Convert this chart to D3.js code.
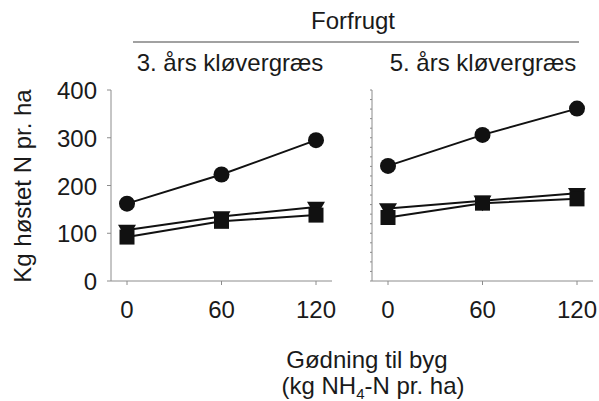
<!DOCTYPE html>
<html>
<head>
<meta charset="utf-8">
<script src="https://cdn.jsdelivr.net/npm/d3@7"></script>
<style>
  body { margin: 0; background: #fff; }
  svg text { font-family: "Liberation Sans", Arial, sans-serif; fill: #1a1a1a; }
</style>
</head>
<body>
<div id="container"></div>
<script>
"use strict";

// fertilizer levels on x
const doses = [0, 60, 120];
const panels = ["3. års kløvergræs", "5. års kløvergræs"];
// harvested N per series, one array per panel
const circleVals = [[162, 223, 295], [241, 306, 361]];
const triangleVals = [[107, 135, 155], [152, 168, 184]];
const squareVals = [[92, 125, 138], [133, 163, 172]];
const yTicks = [0, 100, 200, 300, 400];

const svg = d3.select("#container").append("svg")
    .attr("width", 599)
    .attr("height", 401);

const y = d3.scaleLinear().domain([0, 400]).range([281, 90]);

// panel geometry
const frames = [
    { axisX: 111, x0: 127, x1: 316, end: 332 },
    { axisX: 372, x0: 388, x1: 577, end: 593 }
];

const axisColor = "#8c8c8c";
const fs = 24;

frames.forEach(function(f, p) {
    const x = d3.scaleLinear().domain([0, 120]).range([f.x0, f.x1]);
    const g = svg.append("g");

    // x axis line + ticks
    g.append("line")
        .attr("x1", f.axisX).attr("x2", f.end)
        .attr("y1", y(0)).attr("y2", y(0))
        .attr("stroke", axisColor).attr("stroke-width", 1);
    g.selectAll(".xt").data(doses).enter().append("line")
        .attr("x1", d => x(d)).attr("x2", d => x(d))
        .attr("y1", y(0)).attr("y2", y(0) + 4)
        .attr("stroke", axisColor);
    g.selectAll(".xl").data(doses).enter().append("text")
        .attr("x", d => x(d)).attr("y", 318)
        .attr("text-anchor", "middle")
        .attr("font-size", fs)
        .text(d => d);

    // y axis
    g.append("line")
        .attr("x1", f.axisX).attr("x2", f.axisX)
        .attr("y1", y(0)).attr("y2", y(400))
        .attr("stroke", axisColor).attr("stroke-width", 1);
    if (p === 0) {
        g.selectAll(".yt").data(yTicks).enter().append("line")
            .attr("x1", f.axisX - 4).attr("x2", f.axisX)
            .attr("y1", d => y(d)).attr("y2", d => y(d))
            .attr("stroke", axisColor);
        g.selectAll(".yl").data(yTicks).enter().append("text")
            .attr("x", 97).attr("y", d => y(d) + 9)
            .attr("text-anchor", "end")
            .attr("font-size", fs)
            .text(d => d);
    } else {
        g.selectAll(".yt").data(d3.range(0, 401, 20)).enter().append("line")
            .attr("x1", f.axisX - 2).attr("x2", f.axisX)
            .attr("y1", d => y(d)).attr("y2", d => y(d))
            .attr("stroke", axisColor);
    }

    const line = d3.line().x((d, i) => x(doses[i])).y(d => y(d));
    [circleVals[p], triangleVals[p], squareVals[p]].forEach(function(vals) {
        g.append("path")
            .datum(vals)
            .attr("d", line)
            .attr("fill", "none")
            .attr("stroke", "#111")
            .attr("stroke-width", 2);
    });

    // markers
    g.selectAll(".tri").data(triangleVals[p]).enter().append("path")
        .attr("transform", (d, i) => `translate(${x(doses[i])},${y(d)}) rotate(180)`)
        .attr("d", d3.symbol().type(d3.symbolTriangle).size(140))
        .attr("fill", "#111");
    g.selectAll(".sq").data(squareVals[p]).enter().append("rect")
        .attr("x", (d, i) => x(doses[i]) - 7.5)
        .attr("y", d => y(d) - 7.5)
        .attr("width", 15).attr("height", 15)
        .attr("fill", "#111");
    g.selectAll(".ci").data(circleVals[p]).enter().append("circle")
        .attr("cx", (d, i) => x(doses[i]))
        .attr("cy", d => y(d))
        .attr("r", 8)
        .attr("fill", "#111");

    // panel title
    svg.append("text")
        .attr("x", p === 0 ? 230 : 483)
        .attr("y", 71)
        .attr("text-anchor", "middle")
        .attr("font-size", fs)
        .text(panels[p]);
});

// header
svg.append("text")
    .attr("x", 353).attr("y", 29)
    .attr("text-anchor", "middle")
    .attr("font-size", fs)
    .text("Forfrugt");
svg.append("line")
    .attr("x1", 133).attr("x2", 579)
    .attr("y1", 42).attr("y2", 42)
    .attr("stroke", "#444").attr("stroke-width", 1.2);

// y label
svg.append("text")
    .attr("transform", "translate(31,186) rotate(-90)")
    .attr("text-anchor", "middle")
    .attr("font-size", fs)
    .text("Kg høstet N pr. ha");

// x label
svg.append("text")
    .attr("x", 367).attr("y", 368)
    .attr("text-anchor", "middle")
    .attr("font-size", fs)
    .text("Gødning til byg");
const lab = svg.append("text")
    .attr("x", 373).attr("y", 394)
    .attr("text-anchor", "middle")
    .attr("font-size", fs);
lab.append("tspan").text("(kg NH");
lab.append("tspan").attr("font-size", 15).attr("dy", 5).text("4");
lab.append("tspan").attr("dy", -5).text("-N pr. ha)");
</script>
</body>
</html>
